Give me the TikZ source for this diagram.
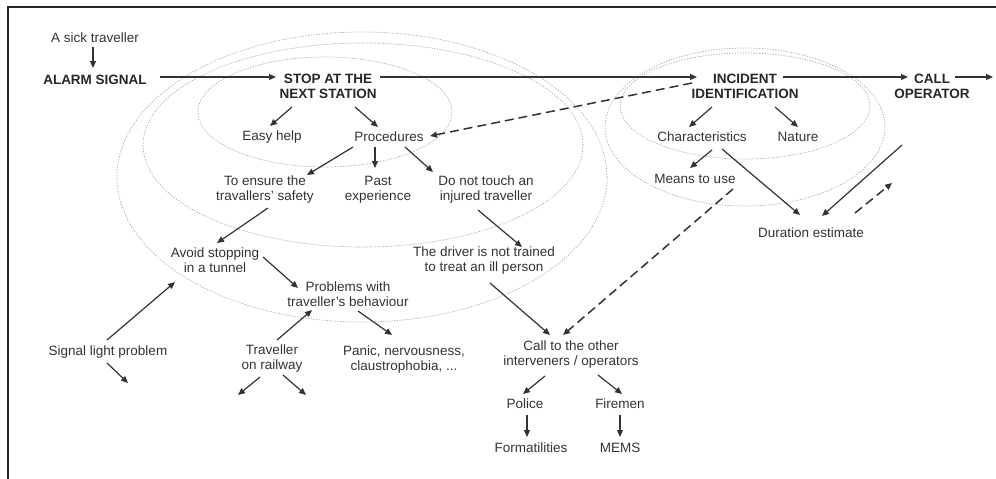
\documentclass[tikz,border=0pt]{standalone}
\usepackage{fontspec}
\setmainfont{Liberation Sans}
\usetikzlibrary{arrows.meta}
\newcommand\rel[3]{([shift={(#2,#3)}]#1.center)}
\begin{document}
\begin{tikzpicture}[x=1pt,y=-1pt,
  lbl/.style={text=black!80, font=\fontsize{13.5}{15}\selectfont, align=center, inner sep=0pt},
  bl/.style={text=black!85, font=\fontsize{13.5}{15}\selectfont\bfseries, align=center, inner sep=0pt},
  arr/.style={draw=black!80, line width=1.2pt, -{Triangle[length=7pt,width=6pt]}},
  darr/.style={arr, dash pattern=on 9pt off 5pt, line width=1.5pt},
  ell/.style={draw=black!35, line width=0.7pt, dash pattern=on 1.2pt off 1.5pt}]
\useasboundingbox (0,0) rectangle (996,479);
% frame
\draw[line width=2pt, black!85] (8,479) -- (8,7) -- (996,7);
% grouping ellipses
\draw[ell] (325,112) ellipse [x radius=127, y radius=55];
\draw[ell] (363,145) ellipse [x radius=220, y radius=102];
\draw[ell] (362,177) ellipse [x radius=245, y radius=145];
\draw[ell] (745,106) ellipse [x radius=125, y radius=53];
\draw[ell] (745,127) ellipse [x radius=140, y radius=79];
% nodes
\node[lbl] (sick) at (95,38) {A sick traveller};
\node[bl] (alarm) at (95,80) {ALARM SIGNAL};
\node[bl] (stop) at (328,86.5) {STOP AT THE\\NEXT STATION};
\node[bl] (incident) at (745,86.5) {INCIDENT\\IDENTIFICATION};
\node[bl] (call) at (932,86.5) {CALL\\OPERATOR};
\node[lbl] (easy) at (272,137) {Easy help};
\node[lbl] (proc) at (389,137) {Procedures};
\node[lbl] (charac) at (702,137) {Characteristics};
\node[lbl] (nature) at (798,137) {Nature};
\node[lbl] (ensure) at (265,189.5) {To ensure the\\travallers' safety};
\node[lbl] (past) at (378,189.5) {Past\\experience};
\node[lbl] (donot) at (486,189.5) {Do not touch an\\injured traveller};
\node[lbl] (means) at (695,179) {Means to use};
\node[lbl] (duration) at (811,233) {Duration estimate};
\node[lbl] (avoid) at (215,260.5) {Avoid stopping\\in a tunnel};
\node[lbl] (driver) at (484,260.5) {The driver is not trained\\to treat an ill person};
\node[lbl] (problems) at (348,294) {Problems with\\traveller's behaviour};
\node[lbl] (signal) at (108,352) {Signal light problem};
\node[lbl] (trav) at (272,358.5) {Traveller\\on railway};
\node[lbl] (panic) at (404,359.5) {Panic, nervousness,\\claustrophobia, ...};
\node[lbl] (callother) at (571,354.5) {Call to the other\\interveners / operators};
\node[lbl] (police) at (525,404) {Police};
\node[lbl] (firemen) at (620,404) {Firemen};
\node[lbl] (formal) at (531,448) {Formatilities};
\node[lbl] (mems) at (620,448) {MEMS};
% free ends
\coordinate (callout) at (993,77);
\coordinate (durin) at (902,145);
\coordinate (durout) at (892,183);
\coordinate (sigout) at (128,383);
\coordinate (travl) at (238,395);
\coordinate (travr) at (306,395);
% connectors
\draw[arr] \rel{sick}{-2}{9} -- \rel{alarm}{-2}{-12};
\draw[arr] \rel{alarm}{65}{-3} -- \rel{stop}{-52}{-9.5};
\draw[arr] \rel{stop}{52}{-9.5} -- \rel{incident}{-48}{-9.5};
\draw[arr] \rel{incident}{38}{-9.5} -- \rel{call}{-24}{-9.5};
\draw[arr] \rel{call}{23}{-9.5} -- (callout);
\draw[darr] \rel{incident}{-53}{-3.5} -- \rel{proc}{41}{-1};
\draw[arr] \rel{stop}{-36}{20.5} -- \rel{easy}{-2}{-11};
\draw[arr] \rel{stop}{27}{20.5} -- \rel{proc}{-11}{-10};
\draw[arr] \rel{incident}{-33}{20.5} -- \rel{charac}{-13}{-10};
\draw[arr] \rel{incident}{30}{20.5} -- \rel{nature}{0}{-10};
\draw[arr] \rel{proc}{-36}{10} -- \rel{ensure}{42}{-14.5};
\draw[arr] \rel{proc}{-14}{10} -- \rel{past}{-3}{-21.5};
\draw[arr] \rel{proc}{16}{10} -- \rel{donot}{-53}{-17.5};
\draw[arr] \rel{charac}{10}{13} -- \rel{means}{-5}{-11};
\draw[arr] \rel{charac}{20}{12} -- \rel{duration}{-11}{-18};
\draw[arr] (durin) -- \rel{duration}{11}{-17};
\draw[darr] \rel{duration}{44}{-20} -- (durout);
\draw[arr] \rel{ensure}{3}{18.5} -- \rel{avoid}{2}{-17.5};
\draw[arr] \rel{avoid}{48}{-3.5} -- \rel{problems}{-50}{-6};
\draw[arr] \rel{donot}{-8}{20.5} -- \rel{driver}{38}{-13.5};
\draw[arr] \rel{driver}{6}{22.5} -- \rel{callother}{-21}{-19.5};
\draw[darr] \rel{means}{38}{10} -- \rel{callother}{-8}{-19.5};
\draw[arr] \rel{signal}{-1}{-12} -- \rel{avoid}{-40}{21.5};
\draw[arr] \rel{signal}{-1}{11} -- (sigout);
\draw[arr] \rel{trav}{5}{-18.5} -- \rel{problems}{-36}{16};
\draw[arr] \rel{trav}{-12}{18.5} -- (travl);
\draw[arr] \rel{trav}{11}{16.5} -- (travr);
\draw[arr] \rel{problems}{10}{17} -- \rel{panic}{-12}{-24.5};
\draw[arr] \rel{callother}{-26}{21.5} -- \rel{police}{-2}{-10};
\draw[arr] \rel{callother}{27}{20.5} -- \rel{firemen}{2}{-10};
\draw[arr] \rel{police}{2}{11} -- \rel{formal}{-4}{-11};
\draw[arr] \rel{firemen}{0}{11} -- \rel{mems}{0}{-11};
\end{tikzpicture}
\end{document}
